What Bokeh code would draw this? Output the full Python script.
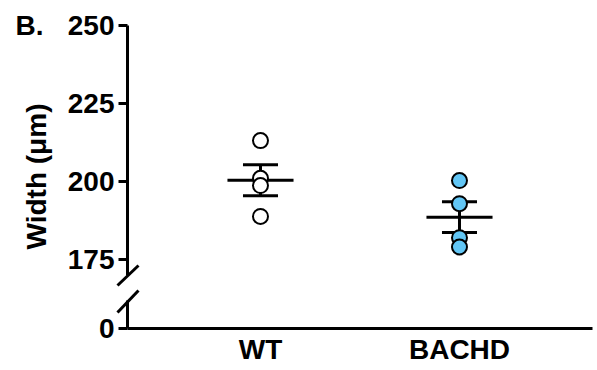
import numpy as np
from bokeh.plotting import figure
from bokeh.models import Range1d, FixedTicker, Label, LinearAxis
from bokeh.embed import file_html
from bokeh.resources import INLINE

# ---- data ----
groups = ["WT", "BACHD"]
wt_values = [213.1, 201.0, 198.7, 188.8]
bachd_values = [200.3, 192.9, 182.0, 179.0]
fill_colors = ["#FFFFFF", "#62C6F5"]
y_ticks_top = [175, 200, 225, 250]
y_ticks_bottom = [0]
y_label = "Width (μm)"
panel_label = "B."

series = [wt_values, bachd_values]
xpos = [i + 1 for i in range(len(groups))]
means = [float(np.mean(v)) for v in series]
sems = [float(np.std(v, ddof=1) / np.sqrt(len(v))) for v in series]

FONT = "Liberation Sans"
FS = "28px"

AXIS_X = 0.3317    # data x where the y axis sits
AXIS_Y = 152.88    # data y (main range) where the x axis sits

p = figure(width=597, height=370,
           x_range=Range1d(-0.3065, 2.6935), y_range=Range1d(139.42, 258.01),
           output_backend="svg", toolbar_location=None,
           min_border_left=0, min_border_right=0, min_border_top=0, min_border_bottom=0)
p.extra_y_ranges = {"low": Range1d(-42, 328)}
p.outline_line_color = None
p.xgrid.visible = False
p.ygrid.visible = False
p.background_fill_color = "white"
p.border_fill_color = "white"


def style_y(ax):
    ax.axis_line_width = 3
    ax.axis_line_color = "black"
    ax.major_tick_line_width = 3
    ax.major_tick_out = 9
    ax.major_tick_in = 0
    ax.minor_tick_line_color = None
    ax.major_label_standoff = 4
    ax.major_label_text_font = FONT
    ax.major_label_text_font_style = "bold"
    ax.major_label_text_font_size = FS
    ax.major_label_text_color = "black"


ya = p.yaxis[0]
ya.ticker = FixedTicker(ticks=y_ticks_top)
ya.bounds = (169.87, 250)
ya.fixed_location = AXIS_X
style_y(ya)

ya2 = LinearAxis(y_range_name="low", ticker=FixedTicker(ticks=y_ticks_bottom), bounds=(0, 28))
ya2.fixed_location = AXIS_X
style_y(ya2)
p.add_layout(ya2, "left")

xa = p.xaxis[0]
xa.ticker = FixedTicker(ticks=xpos)
xa.major_label_overrides = {x: g for x, g in zip(xpos, groups)}
xa.bounds = (AXIS_X, 2.6683)
xa.fixed_location = AXIS_Y
xa.axis_line_width = 3
xa.major_tick_line_color = None
xa.major_tick_out = 0
xa.major_tick_in = 0
xa.minor_tick_line_color = None
xa.major_label_standoff = 5
xa.major_label_text_font = FONT
xa.major_label_text_font_style = "bold"
xa.major_label_text_font_size = FS
xa.major_label_text_color = "black"

# ---- mean and SEM bars ----
mean_half = 0.166
cap_half = 0.088
for x, m, s in zip(xpos, means, sems):
    p.segment(x0=[x - mean_half], x1=[x + mean_half], y0=[m], y1=[m], line_width=3, line_color="black")
    p.segment(x0=[x], x1=[x], y0=[m - s], y1=[m + s], line_width=3, line_color="black")
    p.segment(x0=[x - cap_half, x - cap_half], x1=[x + cap_half, x + cap_half],
              y0=[m - s, m + s], y1=[m - s, m + s], line_width=3, line_color="black")

# ---- points ----
for x, vals, col in zip(xpos, series, fill_colors):
    p.scatter(x=[x] * len(vals), y=vals, size=15, marker="circle",
              fill_color=col, line_color="black", line_width=2)

# ---- axis break slashes ----
p.segment(x0=[0.2814], y0=[166.67], x1=[0.3869], y1=[173.08], line_width=3, line_color="black")
p.segment(x0=[0.2814], y0=[16], x1=[0.3869], y1=[38], line_width=3, line_color="black",
          y_range_name="low")

# ---- texts ----
p.add_layout(Label(x=-0.1256, y=201.6, text=y_label, angle=np.pi / 2,
                   text_align="center", text_baseline="middle",
                   text_font=FONT, text_font_style="bold", text_font_size=FS, text_color="black"))
p.add_layout(Label(x=-0.2312, y=250, text=panel_label,
                   text_align="left", text_baseline="middle",
                   text_font=FONT, text_font_style="bold", text_font_size=FS, text_color="black"))

open("out.html", "w").write(file_html(p, INLINE))
